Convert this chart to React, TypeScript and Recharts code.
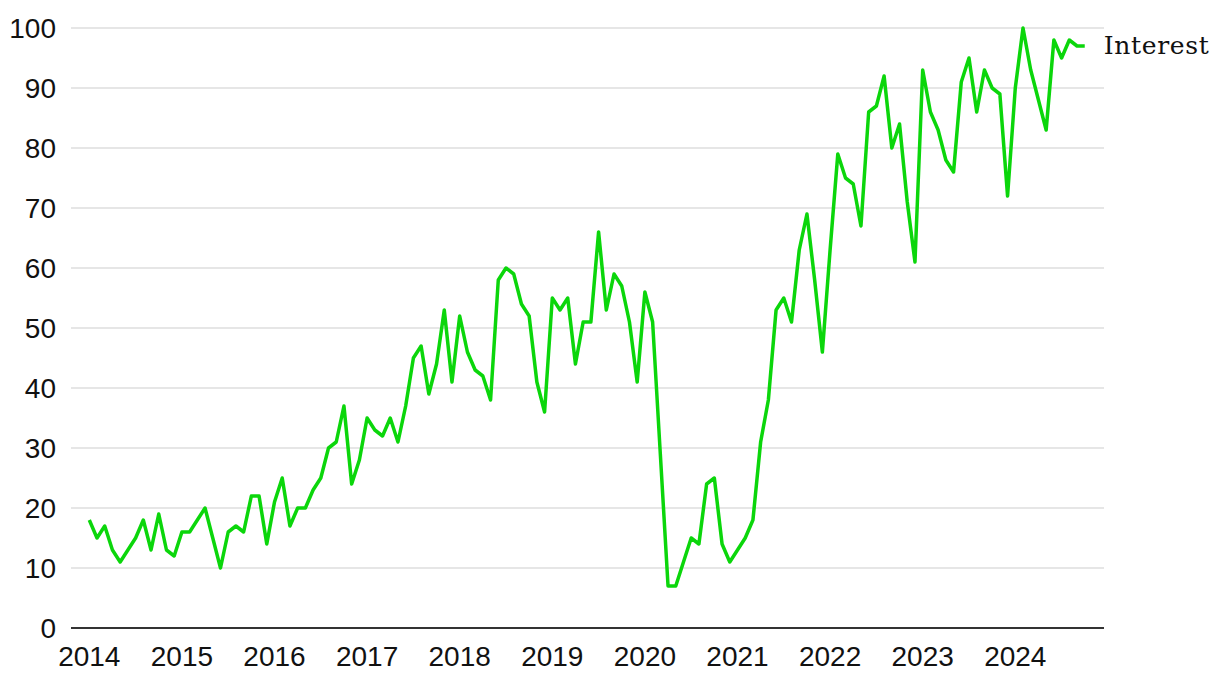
import React from 'react';
import { LineChart, Line, XAxis, YAxis, CartesianGrid } from 'recharts';

// monthly interest, Jan 2014 .. Oct 2024
const startYear = 2014;
const interest2014 = [18, 15, 17, 13, 11, 13, 15, 18, 13, 19, 13, 12];
const interest2015 = [16, 16, 18, 20, 15, 10, 16, 17, 16, 22, 22, 14];
const interest2016 = [21, 25, 17, 20, 20, 23, 25, 30, 31, 37, 24, 28];
const interest2017 = [35, 33, 32, 35, 31, 37, 45, 47, 39, 44, 53, 41];
const interest2018 = [52, 46, 43, 42, 38, 58, 60, 59, 54, 52, 41, 36];
const interest2019 = [55, 53, 55, 44, 51, 51, 66, 53, 59, 57, 51, 41];
const interest2020 = [56, 51, 29, 7, 7, 11, 15, 14, 24, 25, 14, 11];
const interest2021 = [13, 15, 18, 31, 38, 53, 55, 51, 63, 69, 58, 46];
const interest2022 = [63, 79, 75, 74, 67, 86, 87, 92, 80, 84, 71, 61];
const interest2023 = [93, 86, 83, 78, 76, 91, 95, 86, 93, 90, 89, 72];
const interest2024 = [90, 100, 93, 88, 83, 98, 95, 98, 97, 97];

const yearTicks = [2014, 2015, 2016, 2017, 2018, 2019, 2020, 2021, 2022, 2023, 2024];
const valueTicks = [0, 10, 20, 30, 40, 50, 60, 70, 80, 90, 100];
const seriesName = 'Interest';

const interest = [
    ...interest2014, ...interest2015, ...interest2016, ...interest2017,
    ...interest2018, ...interest2019, ...interest2020, ...interest2021,
    ...interest2022, ...interest2023, ...interest2024
];

const data = interest.map((v, i) => ({ t: startYear + i / 12, v }));

const GREEN = '#0bd60b';
const tickFont = { fontFamily: '"Liberation Sans", Arial, sans-serif', fontSize: 28, fill: '#111' };

const EndLabel = (props: any) => {
    const { cx, cy, index } = props;
    if (index !== data.length - 1) return <g key={`d-${index}`} />;
    return (
        <text
            key={`d-${index}`}
            x={cx + 19}
            y={cy + 8}
            fontFamily='"DejaVu Serif", serif'
            fontSize={25}
            textLength={105}
            lengthAdjust="spacing"
            fill="#111"
        >
            {seriesName}
        </text>
    );
};

const App = () => {
    return (
        <div style={{ position: 'absolute', left: 0, top: 0, background: '#fff' }}>
            <LineChart
                width={1220}
                height={688}
                data={data}
                margin={{ top: 28, right: 116, bottom: 0, left: 0 }}
            >
                <CartesianGrid vertical={false} stroke="#e6e6e6" strokeWidth={2} />
                <XAxis
                    dataKey="t"
                    type="number"
                    domain={[2013.8024, 2024.958]}
                    ticks={yearTicks}
                    height={60}
                    tickLine={false}
                    tickSize={0}
                    tickMargin={18}
                    axisLine={{ stroke: '#333', strokeWidth: 2 }}
                    tick={tickFont}
                    tickFormatter={(t: number) => String(Math.round(t))}
                />
                <YAxis
                    type="number"
                    domain={[0, 100]}
                    ticks={valueTicks}
                    width={71}
                    axisLine={false}
                    tickLine={false}
                    tickSize={0}
                    tickMargin={15}
                    tick={tickFont}
                />
                <Line
                    dataKey="v"
                    type="linear"
                    stroke={GREEN}
                    strokeWidth={3.5}
                    strokeLinejoin="round"
                    dot={EndLabel}
                    activeDot={false}
                    isAnimationActive={false}
                />
            </LineChart>
        </div>
    );
};

export default App;
